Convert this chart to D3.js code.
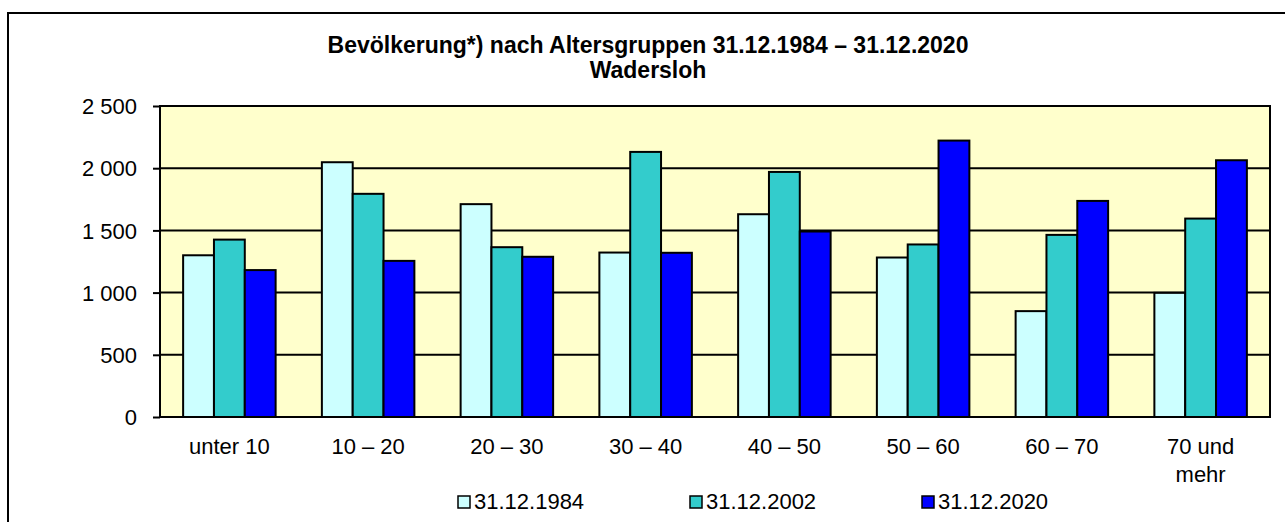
<!DOCTYPE html>
<html>
<head>
<meta charset="UTF-8">
<title>Bevölkerung nach Altersgruppen – Wadersloh</title>
<script src="https://cdn.jsdelivr.net/npm/d3@7"></script>
<style>
    body { margin: 0; background: #fff; }
    text { font-family: "Liberation Sans", Arial, sans-serif; fill: #000; }
</style>
</head>
<body>
<div id="chart"></div>
<script>
    // categories (age groups), multi-line labels split by "\n"
    const ageGroups = ["unter 10", "10 – 20", "20 – 30", "30 – 40", "40 – 50", "50 – 60", "60 – 70", "70 und\nmehr"];
    const seriesNames = ["31.12.1984", "31.12.2002", "31.12.2020"];
    const values1984 = [1300, 2048, 1711, 1322, 1630, 1282, 851, 998];
    const values2002 = [1426, 1794, 1365, 2131, 1970, 1387, 1464, 1595];
    const values2020 = [1181, 1255, 1288, 1320, 1491, 2222, 1737, 2064];
    const yTicks = [0, 500, 1000, 1500, 2000, 2500];
    const colors = ["#CCFFFF", "#33CCCC", "#0000FF"];

    const width = 1285, height = 522;
    const plot = {left: 160, top: 106, right: 1270, bottom: 417};

    const svg = d3.select("#chart").append("svg")
        .attr("width", width)
        .attr("height", height);

    // outer frame (runs off the right and bottom edge)
    svg.append("rect")
        .attr("x", 8).attr("y", 13)
        .attr("width", 1300).attr("height", 540)
        .attr("fill", "none").attr("stroke", "#000").attr("stroke-width", 2);

    // title
    const title = svg.append("text")
        .attr("text-anchor", "middle")
        .style("font-weight", "bold")
        .style("font-size", "23px");
    title.append("tspan").attr("x", 648).attr("y", 53)
        .text("Bevölkerung*) nach Altersgruppen 31.12.1984 – 31.12.2020");
    title.append("tspan").attr("x", 648).attr("y", 78)
        .text("Wadersloh");

    const series = [values1984, values2002, values2020];

    const x0 = d3.scaleBand()
        .domain(ageGroups)
        .range([plot.left, plot.right])
        .paddingInner(1 / 3)
        .paddingOuter(1 / 6);
    const x1 = d3.scaleBand()
        .domain(seriesNames)
        .range([0, x0.bandwidth()]);
    const y = d3.scaleLinear()
        .domain([0, 2500])
        .range([plot.bottom, plot.top]);

    // plot background
    svg.append("rect")
        .attr("x", plot.left).attr("y", plot.top)
        .attr("width", plot.right - plot.left).attr("height", plot.bottom - plot.top)
        .attr("fill", "#FFFFCC");

    // gridlines
    svg.selectAll("line.grid")
        .data(yTicks.slice(1, -1))
        .enter().append("line")
        .attr("class", "grid")
        .attr("x1", plot.left).attr("x2", plot.right)
        .attr("y1", d => y(d)).attr("y2", d => y(d))
        .attr("stroke", "#000").attr("stroke-width", 2);

    // bars
    const groups = svg.selectAll("g.group")
        .data(ageGroups)
        .enter().append("g")
        .attr("class", "group")
        .attr("transform", d => "translate(" + x0(d) + ",0)");

    groups.selectAll("rect")
        .data((d, i) => series.map((s, j) => ({name: seriesNames[j], value: s[i], color: colors[j]})))
        .enter().append("rect")
        .attr("x", d => x1(d.name))
        .attr("y", d => y(d.value))
        .attr("width", x1.bandwidth())
        .attr("height", d => y(0) - y(d.value))
        .attr("fill", d => d.color)
        .attr("stroke", "#000").attr("stroke-width", 2);

    // plot border (left, top, right, bottom)
    svg.append("rect")
        .attr("x", plot.left).attr("y", plot.top)
        .attr("width", plot.right - plot.left).attr("height", plot.bottom - plot.top)
        .attr("fill", "none").attr("stroke", "#000").attr("stroke-width", 2);

    // y axis
    const fmt = d3.formatLocale({decimal: ",", thousands: " ", grouping: [3], currency: ["", " €"]}).format(",d");
    const yAxis = svg.append("g")
        .attr("transform", "translate(" + plot.left + ",0)")
        .call(d3.axisLeft(y).tickValues(yTicks).tickFormat(fmt).tickSize(7).tickPadding(16));
    yAxis.select(".domain").remove();
    yAxis.selectAll(".tick line").attr("stroke", "#000").attr("stroke-width", 2);
    yAxis.selectAll(".tick text")
        .style("font-size", "22px")
        .style("font-family", "'Liberation Sans', Arial, sans-serif")
        .attr("dy", "0.35em");

    // x axis labels
    const xAxis = svg.append("g")
        .attr("transform", "translate(0," + plot.bottom + ")")
        .call(d3.axisBottom(x0).tickSize(0).tickFormat(""));
    xAxis.select(".domain").remove();
    xAxis.selectAll(".tick").each(function(d) {
        const t = d3.select(this).append("text")
            .attr("text-anchor", "middle")
            .style("font-size", "22px")
            .style("font-family", "'Liberation Sans', Arial, sans-serif")
            .attr("fill", "#000");
        d.split("\n").forEach((line, k) => {
            t.append("tspan").attr("x", 0).attr("y", 37 + k * 28).text(line);
        });
    });

    // legend
    const legendX = [458, 690, 922];
    const legend = svg.selectAll("g.legend")
        .data(seriesNames)
        .enter().append("g")
        .attr("class", "legend")
        .attr("transform", (d, i) => "translate(" + legendX[i] + ",496)");
    legend.append("rect")
        .attr("width", 12).attr("height", 12)
        .attr("fill", (d, i) => colors[i])
        .attr("stroke", "#000").attr("stroke-width", 1.5);
    legend.append("text")
        .attr("x", 16).attr("y", 13)
        .style("font-size", "22px")
        .text(d => d);
</script>
</body>
</html>
